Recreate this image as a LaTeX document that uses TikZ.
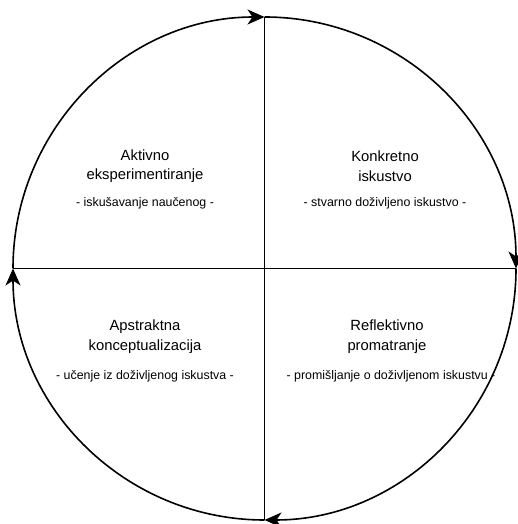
\documentclass[tikz,border=0pt]{standalone}
\usepackage{fontspec}
\setmainfont{Liberation Sans}
\usetikzlibrary{arrows.meta}
\begin{document}
\begin{tikzpicture}[x=1pt,y=1pt,
  ring/.style={line width=1.6pt, -{Stealth[length=17pt,width=15pt,inset=5pt]}},
  axis/.style={line width=1.5pt},
  title/.style={align=center, font=\fontsize{14.8}{19.5}\selectfont, inner sep=0pt},
  sub/.style={font=\fontsize{12.4}{14}\selectfont, inner sep=0pt}]
\useasboundingbox (0,0) rectangle (518,524);
\coordinate (C) at (264.5,255.5);
\coordinate (T) at (264.5,507);
\coordinate (B) at (264.5,4);
\coordinate (L) at (13,255.5);
\coordinate (R) at (516,255.5);
\draw[axis] (T) -- (B);
\draw[axis] (L) -- (R);
\draw[ring] (L) arc[start angle=180, end angle=90, radius=251.5];
\draw[ring] (T) arc[start angle=90, end angle=0, radius=251.5];
\draw[ring] (R) arc[start angle=0, end angle=-90, radius=251.5];
\draw[ring] (B) arc[start angle=-90, end angle=-180, radius=251.5];
\node[title] (akt) at (145,358) {Aktivno\\eksperimentiranje};
\node[sub] (aktS) at (145,321) {- iskušavanje naučenog -};
\node[title] (kon) at (385,358) {Konkretno\\iskustvo};
\node[sub] (konS) at (385,321) {- stvarno doživljeno iskustvo -};
\node[title] (aps) at (145,187.5) {Apstraktna\\konceptualizacija};
\node[sub] (apsS) at (145,148) {- učenje iz doživljenog iskustva -};
\node[title] (ref) at (387,187.5) {Reflektivno\\promatranje};
\node[sub] (refS) at (391,148) {- promišljanje o doživljenom iskustvu -};
\end{tikzpicture}
\end{document}
